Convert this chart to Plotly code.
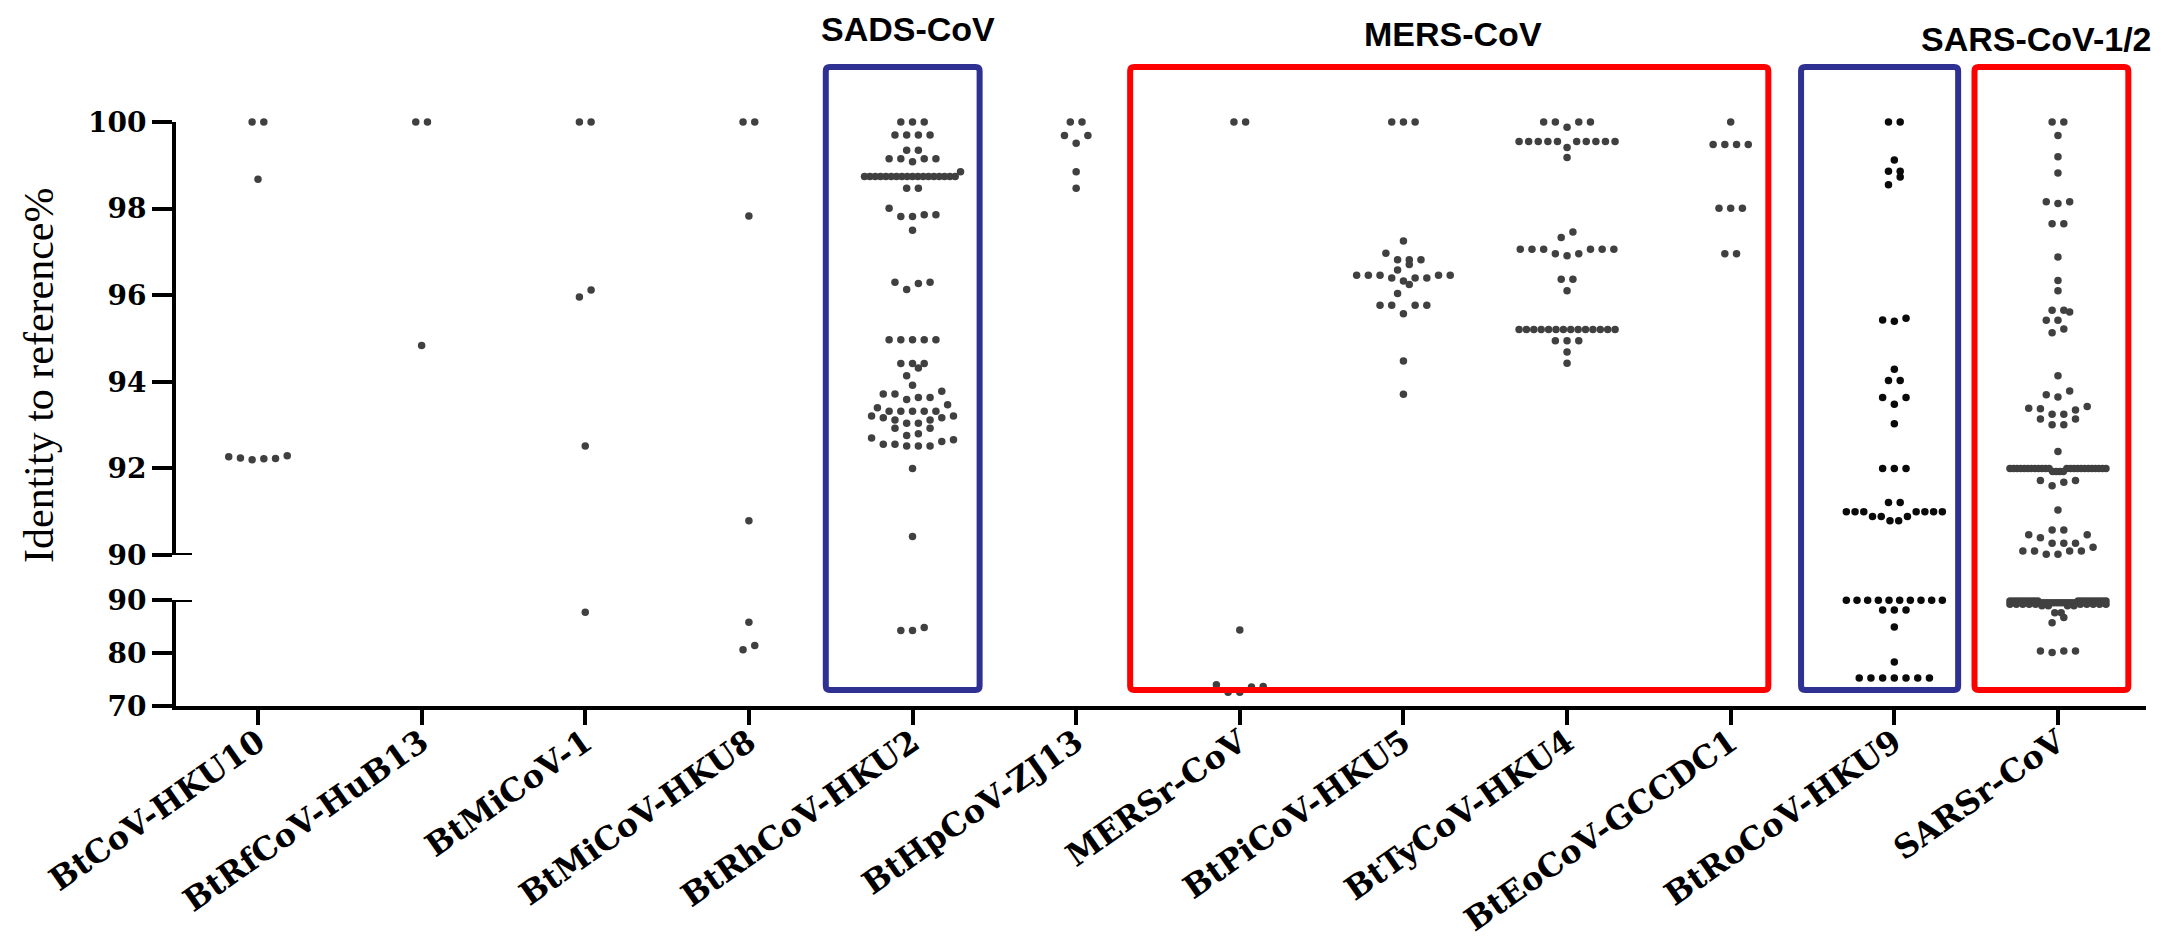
import numpy as np
import plotly.graph_objects as go

# ---------------- data ----------------
categories = ["BtCoV-HKU10", "BtRfCoV-HuB13", "BtMiCoV-1", "BtMiCoV-HKU8", "BtRhCoV-HKU2",
              "BtHpCoV-ZJ13", "MERSr-CoV", "BtPiCoV-HKU5", "BtTyCoV-HKU4", "BtEoCoV-GCCDC1",
              "BtRoCoV-HKU9", "SARSr-CoV"]

btcov_hku10 = [100, 100, 98.68, 92.27, 92.24, 92.22, 92.20, 92.23, 92.29]
btrfcov_hub13 = [100, 100, 94.84]
btmicov_1 = [100, 100, 96.12, 95.96, 92.52, 87.7]
btmicov_hku8 = [100, 100, 97.83, 90.79, 85.8, 81.4, 80.6]
btrhcov_hku2 = [100, 100, 100,
                99.70, 99.70, 99.70, 99.70, 99.35, 99.35,
                99.15, 99.15, 99.15, 99.15, 99.08, 98.85,
                98.74, 98.74, 98.74, 98.74, 98.74, 98.74, 98.74, 98.74, 98.74,
                98.74, 98.74, 98.74, 98.74, 98.74, 98.74, 98.74, 98.74, 98.74,
                98.47, 98.47, 98.01, 97.86, 97.86, 97.82, 97.82, 97.50,
                96.30, 96.30, 96.27, 96.13,
                94.97, 94.97, 94.97, 94.97, 94.97,
                94.42, 94.42, 94.42, 94.32, 94.14, 93.92,
                93.78, 93.72, 93.72, 93.64, 93.64, 93.59, 93.47, 93.40,
                93.32, 93.32, 93.32, 93.32, 93.32,
                93.21, 93.21, 93.17, 93.17, 93.12, 93.12, 93.04, 93.04, 92.93, 92.93,
                92.80, 92.76, 92.70, 92.66, 92.62, 92.56, 92.56, 92.52, 92.52, 92.52,
                92.00, 90.43, 84.83, 84.26, 84.26]
bthpcov_zj13 = [100, 100, 99.69, 99.69, 99.51, 98.85, 98.47]
mersr_cov = [100, 100, 84.34, 74.0, 73.6, 72.6, 72.6, 73.7]
btpicov_hku5 = [100, 100, 100, 97.25, 96.97, 96.82, 96.82, 96.82, 96.71, 96.58,
                96.46, 96.46, 96.46, 96.46, 96.46, 96.40, 96.40, 96.40, 96.33, 96.25,
                96.04, 95.77, 95.77, 95.77, 95.77, 95.57, 94.48, 93.71]
bttycov_hku4 = [100, 100, 100, 100, 99.88,
                99.55, 99.55, 99.55, 99.55, 99.55, 99.55, 99.55, 99.55, 99.55, 99.55,
                99.41, 99.18, 97.46, 97.33,
                97.06, 97.06, 97.06, 97.06, 97.06, 97.06, 96.96, 96.96, 96.91,
                96.37, 96.37, 96.10,
                95.21, 95.21, 95.21, 95.21, 95.21, 95.21, 95.21,
                95.21, 95.21, 95.21, 95.21, 95.21, 95.21, 95.21,
                94.95, 94.95, 94.95, 94.69, 94.43]
bteocov_gccdc1 = [100, 99.48, 99.48, 99.48, 99.48, 98.01, 98.01, 98.01, 96.96, 96.96]
btrocov_hku9 = [100, 100, 99.12, 98.86, 98.86, 98.73, 98.55,
                95.47, 95.43, 95.40, 94.29, 94.03, 94.03, 93.64, 93.64, 93.48, 93.03,
                92.00, 92.00, 92.00, 91.21, 91.21,
                91.00, 91.00, 91.00, 91.00, 91.00, 91.00, 91.00,
                90.89, 90.89, 90.89, 90.79, 90.79,
                89.95, 89.95, 89.95, 89.95, 89.95, 89.95, 89.95, 89.95, 89.95, 89.95,
                88.1, 88.1, 88.1, 84.9, 78.3,
                75.3, 75.3, 75.3, 75.3, 75.3, 75.3, 75.3]
sarsr_cov = [100, 100, 99.69, 99.20, 98.82, 98.16, 98.16, 98.12, 97.65, 97.65,
             96.88, 96.34, 96.10, 95.65, 95.65, 95.61, 95.42, 95.42, 95.22, 95.13,
             94.14, 93.79, 93.70, 93.65, 93.43, 93.39, 93.38, 93.35,
             93.25, 93.25, 93.14, 93.14, 93.01, 93.01, 92.39,
             92.00, 92.00, 92.00, 92.00, 92.00, 92.00, 92.00, 92.00,
             92.00, 92.00, 92.00, 92.00, 92.00, 92.00, 92.00, 92.00,
             92.00, 92.00, 92.00, 92.00, 92.00, 92.00, 92.00, 92.00,
             91.93, 91.93, 91.93, 91.93, 91.72, 91.72, 91.68, 91.60, 91.04,
             90.58, 90.58, 90.47, 90.47, 90.40, 90.27, 90.27, 90.27, 90.18,
             90.09, 90.09, 90.09, 90.09, 90.02, 90.02,
             89.8, 89.8, 89.8, 89.8, 89.8, 89.8, 89.8, 89.8, 89.8, 89.8,
             89.8, 89.8, 89.8, 89.8, 89.8, 89.8, 89.8, 89.8, 89.8, 89.8,
             89.5, 89.5, 89.5, 89.5, 89.5, 89.5, 89.5, 89.5, 89.5, 89.5, 89.5, 89.5,
             89.2, 89.2, 89.2, 89.2, 89.2, 89.2, 89.2, 89.2, 89.2, 89.2,
             88.9, 88.9, 88.9, 88.9, 87.6, 87.6, 86.7, 85.7,
             80.4, 80.4, 80.4, 80.1]

series = [btcov_hku10, btrfcov_hub13, btmicov_1, btmicov_hku8, btrhcov_hku2, bthpcov_zj13,
          mersr_cov, btpicov_hku5, bttycov_hku4, bteocov_gccdc1, btrocov_hku9, sarsr_cov]

upper_ticks = [90, 92, 94, 96, 98, 100]
lower_ticks = [70, 80, 90]

# ---------------- layout / style ----------------
W, H = 2172, 940
ML, MR, MT, MB = 168, 34, 114, 242
PW, PH = W - ML - MR, H - MT - MB
XR = [-0.501, 11.538]
UP_DOM = [(698 - 547) / PH, 1.0]
LO_DOM = [0.0, (698 - 592) / PH]
UP_RANGE = [90, 100]
LO_RANGE = [70, 90]

DOT = "#404040"
dot_colors = [DOT] * 10 + ["#0a0a0a", DOT]
BLUE, RED = "#2E3192", "#FF0000"

px_per_xunit = PW / (XR[1] - XR[0])
up_px = (UP_DOM[1] - UP_DOM[0]) * PH / (UP_RANGE[1] - UP_RANGE[0])
lo_px = (LO_DOM[1] - LO_DOM[0]) * PH / (LO_RANGE[1] - LO_RANGE[0])


def ypix(v):
    if v >= 90:
        return (v - 90) * up_px
    return -5000 + (v - 70) * lo_px


def row_scatter(vals, bin_px=9.3, wpx=11.7, maxhalf=48.0):
    """Prism-style scatter: points are grouped into horizontal rows (bins of
    bin_px pixels, filled from the bottom up) and spread symmetrically in each
    row, lowest values nearest the centre."""
    order = sorted(range(len(vals)), key=lambda i: vals[i])
    rows = []
    for i in order:
        yp = ypix(vals[i])
        if rows and yp - rows[-1][0] < bin_px:
            rows[-1][1].append(i)
        else:
            rows.append([yp, [i]])
    xs = [0.0] * len(vals)
    for _, members in rows:
        m = len(members)
        s = wpx if m <= 1 else min(wpx, 2 * maxhalf / (m - 1))
        slots = [(k - (m - 1) / 2) * s for k in range(m)]
        pos = sorted(set(round(abs(o), 6) for o in slots))
        ordered = []
        flip = False
        for p in pos:
            if p == 0:
                ordered.append(0.0)
            else:
                pair = [-p, p] if not flip else [p, -p]
                ordered.extend(pair)
                flip = not flip
        for member, slot in zip(members, ordered):
            xs[member] = slot / px_per_xunit
    return xs


fig = go.Figure()
for ci, vals in enumerate(series):
    offs = row_scatter(vals)
    xu = [ci + o for o, v in zip(offs, vals) if v >= 90]
    yu = [v for v in vals if v >= 90]
    xl = [ci + o for o, v in zip(offs, vals) if v < 90]
    yl = [v for v in vals if v < 90]
    mk = dict(size=7.5, color=dot_colors[ci], line=dict(width=0))
    fig.add_trace(go.Scatter(x=xu, y=yu, mode="markers", marker=mk, xaxis="x", yaxis="y",
                             cliponaxis=False, showlegend=False, hoverinfo="x+y"))
    if yl:
        fig.add_trace(go.Scatter(x=xl, y=yl, mode="markers", marker=mk, xaxis="x", yaxis="y2",
                                 cliponaxis=False, showlegend=False, hoverinfo="x+y"))

tick_font = dict(family="DejaVu Serif", size=28, color="black", weight="bold")
axis_common = dict(showline=True, linewidth=4, linecolor="black", ticks="outside",
                   tickwidth=4, tickcolor="black", showgrid=False, zeroline=False,
                   automargin=False, fixedrange=True)

fig.update_layout(
    width=W, height=H,
    margin=dict(l=ML, r=MR, t=MT, b=MB, pad=0),
    paper_bgcolor="white", plot_bgcolor="white",
    showlegend=False,
    xaxis=dict(range=XR, anchor="y2", tickmode="array", tickvals=list(range(len(categories))),
               ticktext=categories, tickangle=-35, ticklen=15, ticklabelstandoff=-14,
               tickfont=dict(family="DejaVu Serif", size=32, color="black", weight="bold"),
               **axis_common),
    yaxis=dict(domain=UP_DOM, range=UP_RANGE, anchor="x", tickmode="array",
               tickvals=upper_ticks, ticklen=20, tickfont=tick_font, **axis_common),
    yaxis2=dict(domain=LO_DOM, range=LO_RANGE, anchor="x", tickmode="array",
                tickvals=lower_ticks, ticklen=20, tickfont=tick_font, **axis_common),
)

# axis break caps
cap = 16 / PW
for yr in ["y", "y2"]:
    fig.add_shape(type="line", xref="x domain", yref=yr, x0=0, x1=cap, y0=90, y1=90,
                  line=dict(color="black", width=4))

# group boxes with slightly rounded corners (category span, left/right padding)
boxes = [(4, 4, 0.53, 0.41, BLUE), (6, 9, 0.67, 0.23, RED),
         (10, 10, 0.57, 0.39, BLUE), (11, 11, 0.51, 0.43, RED)]
box_y0 = (698 - 682) / PH
box_y1 = (698 - 59) / PH
rad_px = 4.0
rx = rad_px / px_per_xunit
ry = rad_px / PH
for a, b, pl, pr, col in boxes:
    x0, x1 = a - pl, b + pr
    y0, y1 = box_y0, box_y1
    path = (f"M {x0 + rx},{y0} L {x1 - rx},{y0} Q {x1},{y0} {x1},{y0 + ry} "
            f"L {x1},{y1 - ry} Q {x1},{y1} {x1 - rx},{y1} "
            f"L {x0 + rx},{y1} Q {x0},{y1} {x0},{y1 - ry} "
            f"L {x0},{y0 + ry} Q {x0},{y0} {x0 + rx},{y0} Z")
    fig.add_shape(type="path", path=path, xref="x", yref="paper",
                  line=dict(color=col, width=6), fillcolor="rgba(0,0,0,0)", layer="above")

group_labels = [("SADS-CoV", 3.97, (698 - 21) / PH), ("MERS-CoV", 7.30, (698 - 26) / PH),
                ("SARS-CoV-1/2", 10.87, (698 - 31) / PH)]
for txt, gx, gy in group_labels:
    fig.add_annotation(text=txt, x=gx, y=gy, xref="x", yref="paper", showarrow=False,
                       xanchor="center", yanchor="middle",
                       font=dict(family="Liberation Sans, Arial", size=34, color="black",
                                 weight="bold"))

fig.add_annotation(text="Identity to reference%", textangle=-90, xref="paper", yref="paper",
                   x=(31 - ML) / PW, y=(698 - 368) / PH, xanchor="center", yanchor="middle",
                   showarrow=False,
                   font=dict(family="Liberation Serif, Times New Roman", size=42, color="black"))

fig.write_html("out.html")
